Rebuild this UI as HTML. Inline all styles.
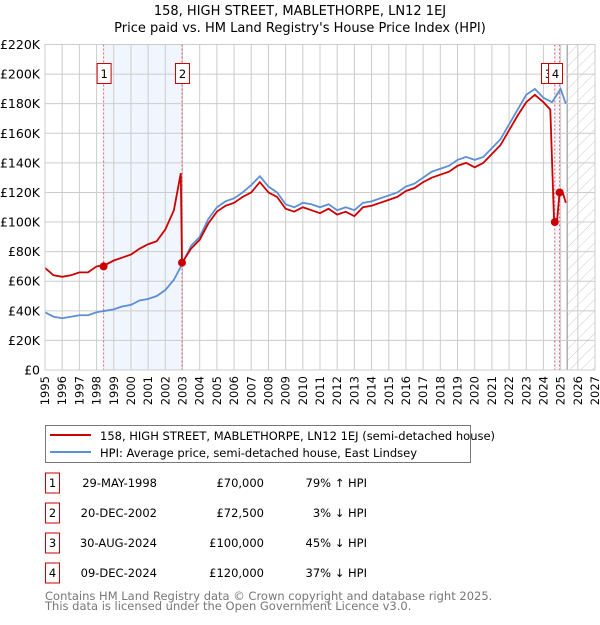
<!DOCTYPE html>
<html><head><meta charset="utf-8">
<style>
body{margin:0;background:#fff;}
svg text{font-family:"DejaVu Sans","Liberation Sans",sans-serif;}
</style></head>
<body>
<svg id="chart" width="600" height="620" viewBox="0 0 600 620">
<defs>
<pattern id="hatch" width="8" height="8" patternUnits="userSpaceOnUse" patternTransform="rotate(45)">
<line x1="0" y1="0" x2="0" y2="8" stroke="#ccc" stroke-width="1"/>
</pattern>
</defs>
<text x="300" y="15" text-anchor="middle" font-size="13" fill="#000">158, HIGH STREET, MABLETHORPE, LN12 1EJ</text>
<text x="300" y="32" text-anchor="middle" font-size="13" fill="#000">Price paid vs. HM Land Registry's House Price Index (HPI)</text>
<g id="plot"></g>
<g>
<rect x="45.5" y="425.5" width="425" height="37" fill="#fff" stroke="#777"/>
<line x1="50" y1="435" x2="91" y2="435" stroke="#cc0000" stroke-width="2"/>
<text x="100" y="440" font-size="11.5">158, HIGH STREET, MABLETHORPE, LN12 1EJ (semi-detached house)</text>
<line x1="50" y1="452" x2="91" y2="452" stroke="#5b8fd6" stroke-width="2"/>
<text x="100" y="457" font-size="11.5">HPI: Average price, semi-detached house, East Lindsey</text>
</g>
<g id="table"></g>
<text x="45" y="600" font-size="11.5" fill="#777">Contains HM Land Registry data © Crown copyright and database right 2025.</text>
<text x="45" y="610" font-size="11.5" fill="#777">This data is licensed under the Open Government Licence v3.0.</text>
</svg>
<script>
const hpiYears=[1995,1995.5,1996,1996.5,1997,1997.5,1998,1998.5,1999,1999.5,2000,2000.5,2001,2001.5,2002,2002.5,2003,2003.5,2004,2004.5,2005,2005.5,2006,2006.5,2007,2007.5,2008,2008.5,2009,2009.5,2010,2010.5,2011,2011.5,2012,2012.5,2013,2013.5,2014,2014.5,2015,2015.5,2016,2016.5,2017,2017.5,2018,2018.5,2019,2019.5,2020,2020.5,2021,2021.5,2022,2022.5,2023,2023.5,2024,2024.5,2025,2025.3];
const hpiValues=[39,36,35,36,37,37,39,40,41,43,44,47,48,50,54,61,72,84,90,102,110,114,116,120,125,131,124,120,112,110,113,112,110,112,108,110,108,113,114,116,118,120,124,126,130,134,136,138,142,144,142,144,150,156,166,176,186,190,184,181,190,180];
const priceYears=[1995,1995.5,1996,1996.5,1997,1997.5,1998,1998.5,1999,1999.5,2000,2000.5,2001,2001.5,2002,2002.5,2002.9,2002.97,2003.5,2004,2004.5,2005,2005.5,2006,2006.5,2007,2007.5,2008,2008.5,2009,2009.5,2010,2010.5,2011,2011.5,2012,2012.5,2013,2013.5,2014,2014.5,2015,2015.5,2016,2016.5,2017,2017.5,2018,2018.5,2019,2019.5,2020,2020.5,2021,2021.5,2022,2022.5,2023,2023.5,2024,2024.4,2024.62,2024.66,2024.8,2024.94,2025.1,2025.3];
const priceValues=[69,64,63,64,66,66,70,71,74,76,78,82,85,87,95,108,133,72.5,82,88,99,107,111,113,117,120,127,120,117,109,107,110,108,106,109,105,107,104,110,111,113,115,117,121,123,127,130,132,134,138,140,137,140,146,152,162,172,181,186,181,176,100,100,102,120,121,113];
const saleLabels=["1","2","3","4"];
const saleYears=[1998.41,2002.97,2024.66,2024.94];
const saleValues=[70,72.5,100,120];
const saleDates=["29-MAY-1998","20-DEC-2002","30-AUG-2024","09-DEC-2024"];
const salePrices=["£70,000","£72,500","£100,000","£120,000"];
const saleHpi=["79% ↑ HPI","3% ↓ HPI","45% ↓ HPI","37% ↓ HPI"];
const yTicks=[0,20,40,60,80,100,120,140,160,180,200,220];
const xTicks=[1995,1996,1997,1998,1999,2000,2001,2002,2003,2004,2005,2006,2007,2008,2009,2010,2011,2012,2013,2014,2015,2016,2017,2018,2019,2020,2021,2022,2023,2024,2025,2026,2027];

const L=45,R=595,T=44.5,B=370;
const x=y=>L+(y-1995)/(2027-1995)*(R-L);
const yv=v=>B-v/220*(B-T);
const NS="http://www.w3.org/2000/svg";
const plot=document.getElementById('plot');
function mk(tag,attrs,parent){const e=document.createElementNS(NS,tag);for(const k in attrs)e.setAttribute(k,attrs[k]);(parent||plot).appendChild(e);return e;}

let e;
e=mk('rect',{x:x(saleYears[0]),y:T,width:x(saleYears[1])-x(saleYears[0]),height:B-T,fill:'#eef3fc',opacity:0.8});


e=mk('rect',{x:x(saleYears[2]),y:T,width:x(saleYears[3])-x(saleYears[2]),height:B-T,fill:'#eef3fc',opacity:0.8});


e=mk('rect',{x:x(2025.38),y:T,width:R-x(2025.38),height:B-T,fill:'url(#hatch)'});


e=mk('line',{x1:x(2025.38),y1:T,x2:x(2025.38),y2:B,stroke:'#888','stroke-width':1});



xTicks.forEach(t=>{
 e=mk('line',{x1:x(t),y1:T,x2:x(t),y2:B,stroke:'#ccc','stroke-width':1});
 
 
 e=mk('text',{x:0,y:0,'font-size':11.5,'text-anchor':'end',transform:`translate(${x(t)+4},${B+6}) rotate(-90)`});
 e.textContent=t;
 
 
});
yTicks.forEach(t=>{
 e=mk('line',{x1:L,y1:yv(t),x2:R,y2:yv(t),stroke:'#ccc','stroke-width':1});
 
 
 e=mk('text',{x:L-5,y:yv(t)+4.5,'font-size':12.5,'text-anchor':'end'});
 e.textContent=t===0?'£0':'£'+t+'K';
 
 
});

saleYears.forEach(s=>{
 e=mk('line',{x1:x(s),y1:T,x2:x(s),y2:B,stroke:'#e06060','stroke-width':1,'stroke-dasharray':'2,2'});
 
 
});

e=mk('polyline',{points:hpiYears.map((t,i)=>x(t)+','+yv(hpiValues[i])).join(' '),fill:'none',stroke:'#5b8fd6','stroke-width':1.8});


e=mk('polyline',{points:priceYears.map((t,i)=>x(t)+','+yv(priceValues[i])).join(' '),fill:'none',stroke:'#cc0000','stroke-width':1.8});



saleYears.forEach((s,i)=>{
 e=mk('circle',{cx:x(s),cy:yv(saleValues[i]),r:4,fill:'#cc0000'});
 
 
});

const boxX=[x(saleYears[0])-7,x(saleYears[1])-7,541,548];
saleLabels.forEach((lab,i)=>{
 const g=mk('g',{});
 
 
 mk('rect',{x:boxX[i]+0.5,y:63.5,width:14,height:20,fill:'#fff',stroke:'#cc0000'},g);
 const t=mk('text',{x:boxX[i]+7.5,y:78,'font-size':11.5,'text-anchor':'middle'},g);
 t.textContent=lab;
});
e=mk('rect',{x:L,y:T,width:R-L,height:B-T,fill:'none',stroke:'#ccc'});



const tbl=document.getElementById('table');
const rowY=[483,513,543,573];
saleLabels.forEach((lab,i)=>{
 const g=mk('g',{},tbl);
 
 
 mk('rect',{x:45.5,y:rowY[i]-10,width:14,height:20,fill:'#fff',stroke:'#cc0000'},g);
 let t=mk('text',{x:52.5,y:rowY[i]+4,'font-size':11.5,'text-anchor':'middle'},g);t.textContent=lab;
 t=mk('text',{x:157,y:rowY[i]+4,'font-size':11.5,'text-anchor':'end'},g);t.textContent=saleDates[i];
 t=mk('text',{x:264,y:rowY[i]+4,'font-size':11.5,'text-anchor':'end'},g);t.textContent=salePrices[i];
 t=mk('text',{x:367,y:rowY[i]+4,'font-size':11.5,'text-anchor':'end'},g);t.textContent=saleHpi[i];
});
</script>
</body></html>
